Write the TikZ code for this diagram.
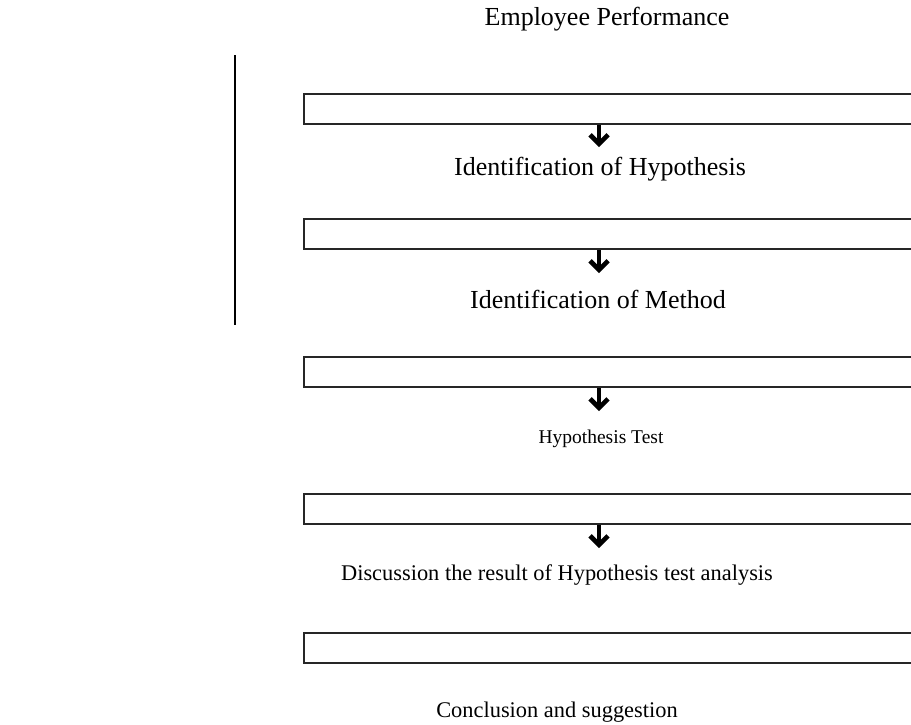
\documentclass[tikz,border=0pt]{standalone}
\usepackage{fontspec}
\setmainfont{Liberation Serif}
\usetikzlibrary{arrows.meta}
\begin{document}
\begin{tikzpicture}[x=1pt,y=-1pt,
  stagebox/.style={draw=black!85,line width=2pt,rectangle,minimum width=620pt,minimum height=30pt,inner sep=0pt,anchor=north west},
  bigtext/.style={font=\fontsize{26}{30}\selectfont,anchor=base,inner sep=0pt},
  smalltext/.style={font=\fontsize{22.4}{26}\selectfont,anchor=base,inner sep=0pt},
  flow/.style={line width=3.2pt,-{Straight Barb[length=9pt,width=18pt,line width=4.6pt]}}]
\clip (0,0) rectangle (911,724);
\fill[white] (0,0) rectangle (911,724);

% left margin rule
\coordinate (rtop) at (235,55);
\coordinate (rbot) at (235,325);
\draw[line width=1.8pt] (rtop) -- (rbot);

% headings between the stages
\node[bigtext] (t0) at (607,25) {Employee Performance};
\node[bigtext] (t1) at (600,175) {Identification of Hypothesis};
\node[bigtext] (t2) at (598,308) {Identification of Method};
\node[smalltext,font=\fontsize{19.5}{24}\selectfont] (t3) at (601,443) {Hypothesis Test};
\node[smalltext] (t4) at (557,580) {Discussion the result of Hypothesis test analysis};
\node[smalltext] (t5) at (557,717) {Conclusion and suggestion};

% stage boxes, open past the right edge
\node[stagebox] (b1) at (303,93) {};
\node[stagebox] (b2) at (303,218) {};
\node[stagebox] (b3) at (303,356) {};
\node[stagebox] (b4) at (303,493) {};
\node[stagebox] (b5) at (303,632) {};

% arrow ends
\coordinate (a1) at (599,147);
\coordinate (a2) at (599,273);
\coordinate (a3) at (599,411);
\coordinate (a4) at (599,548);

\draw[flow] (b1.south -| a1) -- (a1);
\draw[flow] (b2.south -| a2) -- (a2);
\draw[flow] (b3.south -| a3) -- (a3);
\draw[flow] (b4.south -| a4) -- (a4);
\end{tikzpicture}
\end{document}
